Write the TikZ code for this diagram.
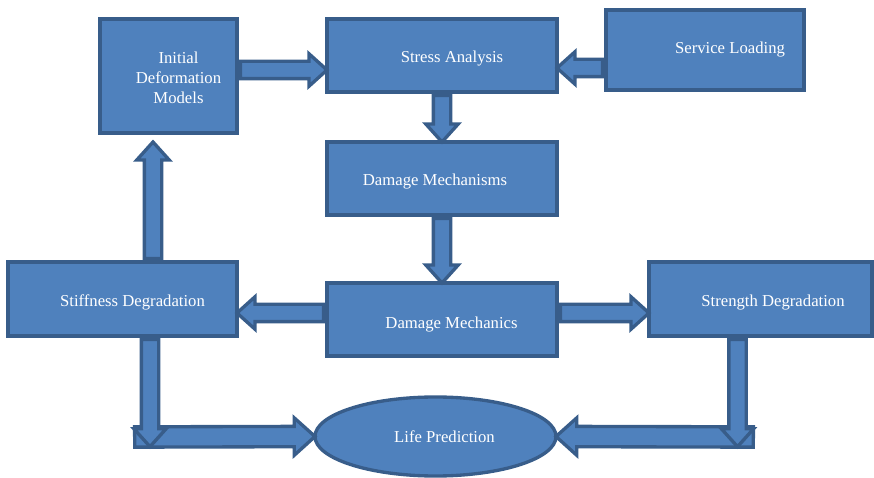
\documentclass[tikz,border=0pt]{standalone}
\usepackage{fontspec}
\setmainfont{Liberation Serif}
\usetikzlibrary{shapes.geometric,shapes.arrows,calc}
\definecolor{boxfill}{RGB}{79,129,189}
\definecolor{boxline}{RGB}{56,93,138}
\tikzset{
  box/.style={draw=boxline, fill=boxfill, line width=1.9pt, inner sep=0pt},
  txt/.style={text=white, font=\fontsize{9.5}{11.3}\selectfont, align=center},
  arrowbody/.style={single arrow, draw=boxline, fill=boxfill, line width=1.9pt,
    inner xsep=0pt, inner ysep=0.14cm,
    minimum width=0.6cm, single arrow head extend=0.15cm, single arrow tip angle=84,
    single arrow head indent=0pt},
  wide/.style={inner ysep=0.17cm, minimum width=0.72cm, single arrow head extend=0.17cm},
  blockarrow/.style={to path={let \p1=(\tikztostart), \p2=(\tikztotarget),
    \n1={veclen(\x2-\x1,\y2-\y1)}, \n2={atan2(\y2-\y1,\x2-\x1)} in
    (\tikztostart) node[arrowbody, anchor=tail, rotate=\n2, minimum height=\n1, #1] {}}},
  blockarrow/.default={}
}
\begin{document}
\begin{tikzpicture}
  \useasboundingbox (0,0) rectangle (17.48,-9.56);

  \node[box, minimum width=2.74cm, minimum height=2.28cm,
    label={[txt, xshift=0.2cm, yshift=-0.04cm]center:Initial\\Deformation\\Models}] (init) at (3.37,-1.52) {};
  \node[box, minimum width=4.6cm, minimum height=1.46cm,
    label={[txt, xshift=0.2cm, yshift=-0.06cm]center:Stress Analysis}] (stress) at (8.84,-1.11) {};
  \node[box, minimum width=3.96cm, minimum height=1.6cm,
    label={[txt, xshift=0.5cm]center:Service Loading}] (service) at (14.10,-1.00) {};
  \node[box, minimum width=4.6cm, minimum height=1.46cm,
    label={[txt, xshift=-0.14cm, yshift=-0.06cm]center:Damage Mechanisms}] (mechs) at (8.84,-3.57) {};
  \node[box, minimum width=4.6cm, minimum height=1.46cm,
    label={[txt, xshift=0.19cm, yshift=-0.11cm]center:Damage Mechanics}] (mechanics) at (8.84,-6.39) {};
  \node[box, minimum width=4.58cm, minimum height=1.48cm,
    label={[txt, xshift=0.2cm, yshift=-0.06cm]center:Stiffness Degradation}] (stiff) at (2.45,-5.98) {};
  \node[box, minimum width=4.46cm, minimum height=1.48cm,
    label={[txt, xshift=0.25cm, yshift=-0.07cm]center:Strength Degradation}] (strength) at (15.21,-5.98) {};
  \node[box, ellipse, minimum width=4.82cm, minimum height=1.58cm,
    label={[txt, xshift=0.18cm]center:Life Prediction}] (life) at (8.71,-8.73) {};

  \coordinate (lcorner) at (2.66,-8.74);
  \coordinate (ltip) at (3.00,-8.90);
  \coordinate (rcorner) at (15.10,-8.74);
  \coordinate (rtip) at (14.75,-8.90);

  \path ([yshift=0.12cm]init.east) to[blockarrow] ([yshift=-0.29cm]stress.west);
  \path ([yshift=-0.36cm]service.west) to[blockarrow] ([yshift=-0.25cm]stress.east);
  \path (stress.south) to[blockarrow] (mechs.north);
  \path (mechs.south) to[blockarrow] (mechanics.north);
  \path ([yshift=0.13cm]mechanics.west) to[blockarrow] ([yshift=-0.28cm]stiff.east);
  \path ([yshift=0.13cm]mechanics.east) to[blockarrow] ([yshift=-0.28cm]strength.west);
  \path ([xshift=0.61cm]stiff.north) to[blockarrow] ([xshift=-0.31cm,yshift=-0.18cm]init.south);
  \path (lcorner) to[blockarrow=wide] (life.west);
  \path ([xshift=0.55cm]stiff.south) to[blockarrow] (ltip);
  \path (rcorner) to[blockarrow=wide] (life.east);
  \path ([xshift=-0.46cm]strength.south) to[blockarrow] (rtip);
\end{tikzpicture}
\end{document}
